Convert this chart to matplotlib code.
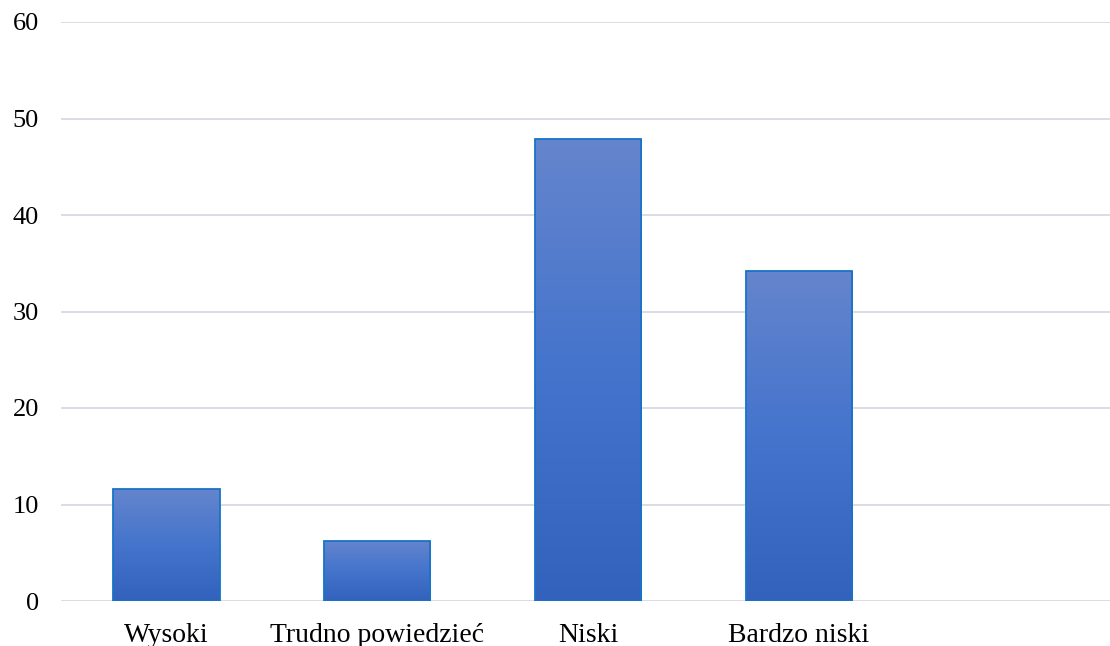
import matplotlib.pyplot as plt
import numpy as np
from matplotlib.colors import LinearSegmentedColormap

plt.rcParams['font.family'] = ['Liberation Serif', 'DejaVu Serif']

categories = ["Wysoki", "Trudno powiedzieć", "Niski", "Bardzo niski", ""]
values = [11.6, 6.25, 47.9, 34.2, 0]

fig = plt.figure(figsize=(11.1, 6.46), dpi=100)
ax = fig.add_axes([61 / 1110, 45 / 646, 1054 / 1110, 579 / 646])

x = np.arange(len(categories))
bars = ax.bar(x[:4], values[:4], width=0.505, color="none",
              edgecolor="#1873c8", linewidth=1.3, zorder=3)

# pionowy gradient w każdym słupku
cmap = LinearSegmentedColormap.from_list("grad", ["#3262bb", "#4474cc", "#6585cd"])
grad = np.linspace(0, 1, 256).reshape(-1, 1)
for b in bars:
    x0, y0 = b.get_x(), b.get_y()
    w, h = b.get_width(), b.get_height()
    im = ax.imshow(grad, cmap=cmap, origin="lower", aspect="auto",
                   extent=[x0, x0 + w, y0, y0 + h], zorder=2)
    im.set_clip_path(b)

ax.set_xlim(-0.5, 4.5)
ax.set_ylim(0, 60)
ax.set_yticks(range(0, 61, 10))
ax.set_xticks(x)
ax.set_xticklabels(categories)
ax.grid(axis="y", color="#dadde4", linewidth=1.4, zorder=0)
ax.set_axisbelow(True)
for s in ax.spines.values():
    s.set_visible(False)
ax.tick_params(length=0, colors="black")
ax.tick_params(axis="y", pad=16, labelsize=19)
ax.tick_params(axis="x", pad=16, labelsize=20)

plt.savefig("out.png")
